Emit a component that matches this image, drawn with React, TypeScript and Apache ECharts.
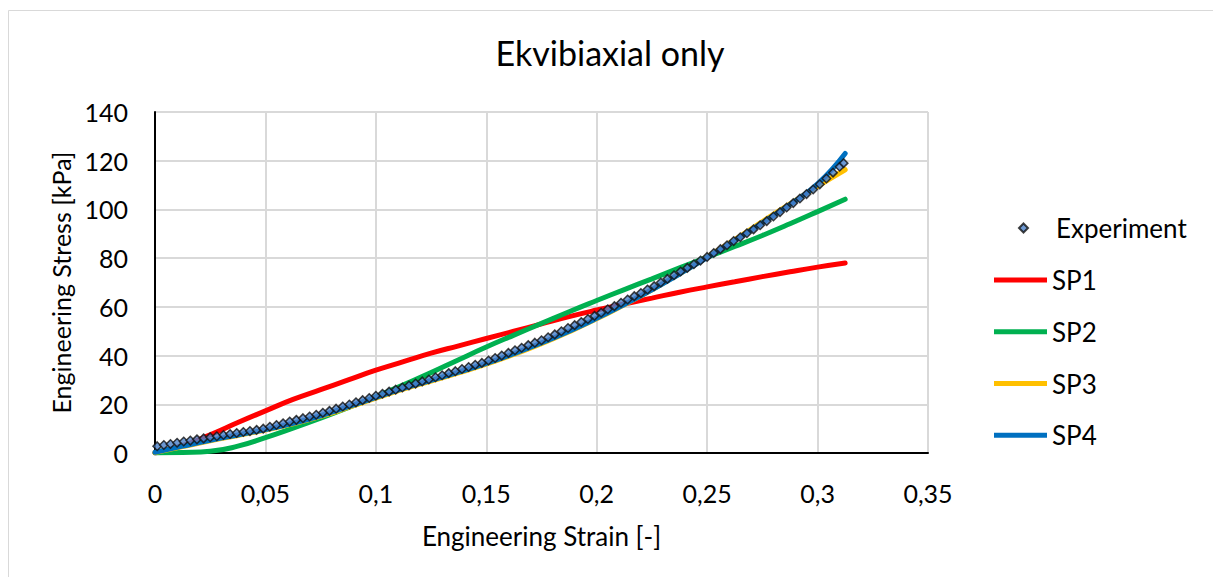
import React, { useEffect, useRef } from "react";
import * as echarts from "echarts";

const titleText = "Ekvibiaxial only";
const xAxisName = "Engineering Strain [-]";
const yAxisName = "Engineering Stress [kPa]";

const expStrain = [
  0.001, 0.004, 0.007, 0.010, 0.013, 0.016, 0.019, 0.022, 0.025, 0.028, 0.031, 0.034, 0.037, 0.040, 0.043, 0.046, 0.049,
  0.052, 0.055, 0.058, 0.061, 0.064, 0.067, 0.070, 0.073,
  0.076, 0.079, 0.082, 0.085, 0.088, 0.091, 0.094, 0.097, 0.100,
  0.103, 0.106, 0.109, 0.112, 0.115, 0.118, 0.121, 0.124,
  0.127, 0.130, 0.133, 0.136, 0.139, 0.142, 0.145, 0.148,
  0.151, 0.154, 0.157, 0.160, 0.163, 0.166, 0.169, 0.172,
  0.175, 0.178, 0.181, 0.184, 0.187, 0.190, 0.193, 0.196, 0.199,
  0.202, 0.205, 0.208, 0.211, 0.214, 0.217, 0.220, 0.223,
  0.226, 0.229, 0.232, 0.235, 0.238, 0.241, 0.244, 0.247, 0.250,
  0.253, 0.256, 0.259, 0.262, 0.265, 0.268, 0.271, 0.274,
  0.277, 0.280, 0.283, 0.286, 0.289, 0.292, 0.295, 0.298,
  0.301, 0.304, 0.307, 0.310, 0.3118,
];
const expStress = [
  2.8, 3.3, 3.7, 4.2, 4.7, 5.1, 5.6, 6.0, 6.5, 6.9, 7.4, 7.8, 8.2, 8.6, 9.0, 9.5, 10.0,
  10.8, 11.5, 12.2, 12.9, 13.6, 14.3, 15.0, 15.7,
  16.5, 17.3, 18.2, 19.1, 19.9, 20.8, 21.7, 22.6, 23.5,
  24.3, 25.2, 26.0, 26.9, 27.7, 28.5, 29.4, 30.2,
  31.1, 31.9, 32.8, 33.6, 34.5, 35.3, 36.2, 37.0,
  38.0, 39.0, 40.0, 41.1, 42.2, 43.2, 44.3, 45.3,
  46.3, 47.5, 48.7, 50.0, 51.3, 52.5, 53.8, 55.0, 56.3,
  57.6, 59.0, 60.3, 61.7, 63.0, 64.4, 65.7, 67.1,
  68.5, 70.0, 71.5, 73.0, 74.5, 76.0, 77.5, 79.0, 80.5,
  82.1, 83.7, 85.3, 87.0, 88.6, 90.2, 91.8, 93.5,
  95.2, 97.1, 98.9, 100.8, 102.6, 104.5, 106.3, 108.2,
  110.3, 112.7, 115.1, 117.5, 119.0,
];

const modelStrain = [
  0, 0.0125, 0.025, 0.0375, 0.05, 0.0625, 0.075, 0.0875, 0.1, 0.1125, 0.125, 0.1375, 0.15,
  0.1625, 0.175, 0.1875, 0.2, 0.2125, 0.225, 0.2375, 0.25, 0.2625, 0.275, 0.2875, 0.3, 0.3125,
];
const sp1Stress = [
  0, 3, 7.5, 12.5, 17.3, 22, 26, 30, 34, 37.5, 41, 44, 47,
  50, 53, 56, 58.7, 61.2, 63.6, 66, 68.2, 70.3, 72.4, 74.4, 76.3, 78,
];
const sp2Stress = [
  0, 0.2, 0.7, 2.8, 6.3, 10.2, 14.3, 18.6, 23.1, 28, 33, 38.3, 43.5,
  48.4, 53.2, 58, 62.6, 67.1, 71.5, 76, 80.4, 84.8, 89.3, 94.1, 99.1, 104.2,
];
const sp3Stress = [
  0.2, 2.6, 5.0, 7.2, 9.4, 12.0, 15.0, 18.7, 22.5, 26.2, 29.5, 32.9, 36.5,
  40.5, 44.9, 49.8, 55.1, 60.9, 67.0, 73.6, 80.5, 87.6, 95.0, 102.3, 109.5, 116.3,
];
const sp4Stress = [
  0.3, 2.8, 5.2, 7.4, 9.6, 12.2, 15.3, 19.0, 22.8, 26.5, 29.8, 33.2, 36.8,
  40.8, 45.2, 50.0, 55.3, 61.0, 67.0, 73.5, 80.2, 87.2, 94.5, 102.0, 110.5, 123.0,
];

const seriesNames = ["Experiment", "SP1", "SP2", "SP3", "SP4"];
const lineColors = ["#FF0000", "#00B050", "#FFC000", "#0070C0"];

const FONT = "Lato";

function pairs(xs: number[], ys: number[]) {
  return xs.map((x, i) => [x, ys[i]]);
}

export default function App() {
  const ref = useRef<HTMLDivElement>(null);
  useEffect(() => {
    if (!ref.current) return;
    const chart = echarts.init(ref.current, null, { renderer: "svg" });
    const lineData = [sp1Stress, sp2Stress, sp3Stress, sp4Stress];
    const lineIcon = "path://M0,0 L106,0 L106,10 L0,10 Z";
    const legendText = { fontFamily: FONT, fontSize: 26, color: "#000", lineHeight: 28 };
    const option: any = {
      animation: false,
      backgroundColor: "#fff",
      textStyle: { fontFamily: FONT },
      title: {
        text: titleText,
        left: 610,
        textAlign: "center",
        top: 35,
        padding: 0,
        textStyle: { fontFamily: FONT, fontSize: 34, fontWeight: "normal", color: "#000" },
      },
      graphic: [
        {
          type: "rect",
          shape: { x: 8.5, y: 10.5, width: 1215, height: 580 },
          style: { fill: "none", stroke: "#D9D9D9", lineWidth: 1 },
          silent: true,
          z: -1,
        },
      ],
      grid: { left: 155, right: 285, top: 112, bottom: 124, containLabel: false },
      legend: [
        {
          orient: "vertical",
          left: 1018,
          top: 214,
          padding: 0,
          itemWidth: 9,
          itemHeight: 9,
          textStyle: { ...legendText, padding: [0, 0, 0, 23] },
          data: [{ name: seriesNames[0], icon: "diamond" }],
        },
        {
          orient: "vertical",
          left: 994,
          top: 266,
          padding: 0,
          itemWidth: 53,
          itemHeight: 9,
          itemGap: 23.75,
          textStyle: legendText,
          data: seriesNames.slice(1).map((n) => ({ name: n, icon: lineIcon })),
        },
      ],
      xAxis: {
        type: "value",
        min: 0,
        max: 0.35,
        interval: 0.05,
        name: xAxisName,
        nameLocation: "middle",
        nameGap: 70,
        nameTextStyle: { fontFamily: FONT, fontSize: 26, color: "#000" },
        axisLine: { show: true, onZero: false, lineStyle: { color: "#000", width: 2 } },
        axisTick: { show: false },
        axisLabel: {
          margin: 27,
          fontFamily: FONT,
          fontSize: 25,
          color: "#000",
          formatter: (v: number) => String(Math.round(v * 100) / 100).replace(".", ","),
        },
        splitLine: { show: true, lineStyle: { color: "#D9D9D9", width: 2 } },
      },
      yAxis: {
        type: "value",
        min: 0,
        max: 140,
        interval: 20,
        name: yAxisName,
        nameLocation: "middle",
        nameGap: 80,
        nameTextStyle: { fontFamily: FONT, fontSize: 25, color: "#000" },
        axisLine: { show: true, onZero: false, lineStyle: { color: "#000", width: 2 } },
        axisTick: { show: false },
        axisLabel: { margin: 27, fontFamily: FONT, fontSize: 25, color: "#000" },
        splitLine: { show: true, lineStyle: { color: "#D9D9D9", width: 2 } },
      },
      series: [
        ...lineData.map((d, i) => ({
          name: seriesNames[i + 1],
          type: "line",
          data: pairs(modelStrain, d),
          smooth: true,
          symbol: "none",
          lineStyle: { color: lineColors[i], width: 5, cap: "round" },
          itemStyle: { color: lineColors[i] },
          z: 2 + i,
        })),
        {
          name: seriesNames[0],
          type: "scatter",
          data: pairs(expStrain, expStress),
          symbol: "diamond",
          symbolSize: 8.5,
          itemStyle: { color: "#4A7FC8", borderColor: "#111", borderWidth: 1.5 },
          z: 10,
        },
      ],
    };
    chart.setOption(option);
    return () => chart.dispose();
  }, []);
  return (
    <div
      ref={ref}
      style={{ position: "fixed", left: 0, top: 0, width: 1213, height: 577 }}
    />
  );
}
